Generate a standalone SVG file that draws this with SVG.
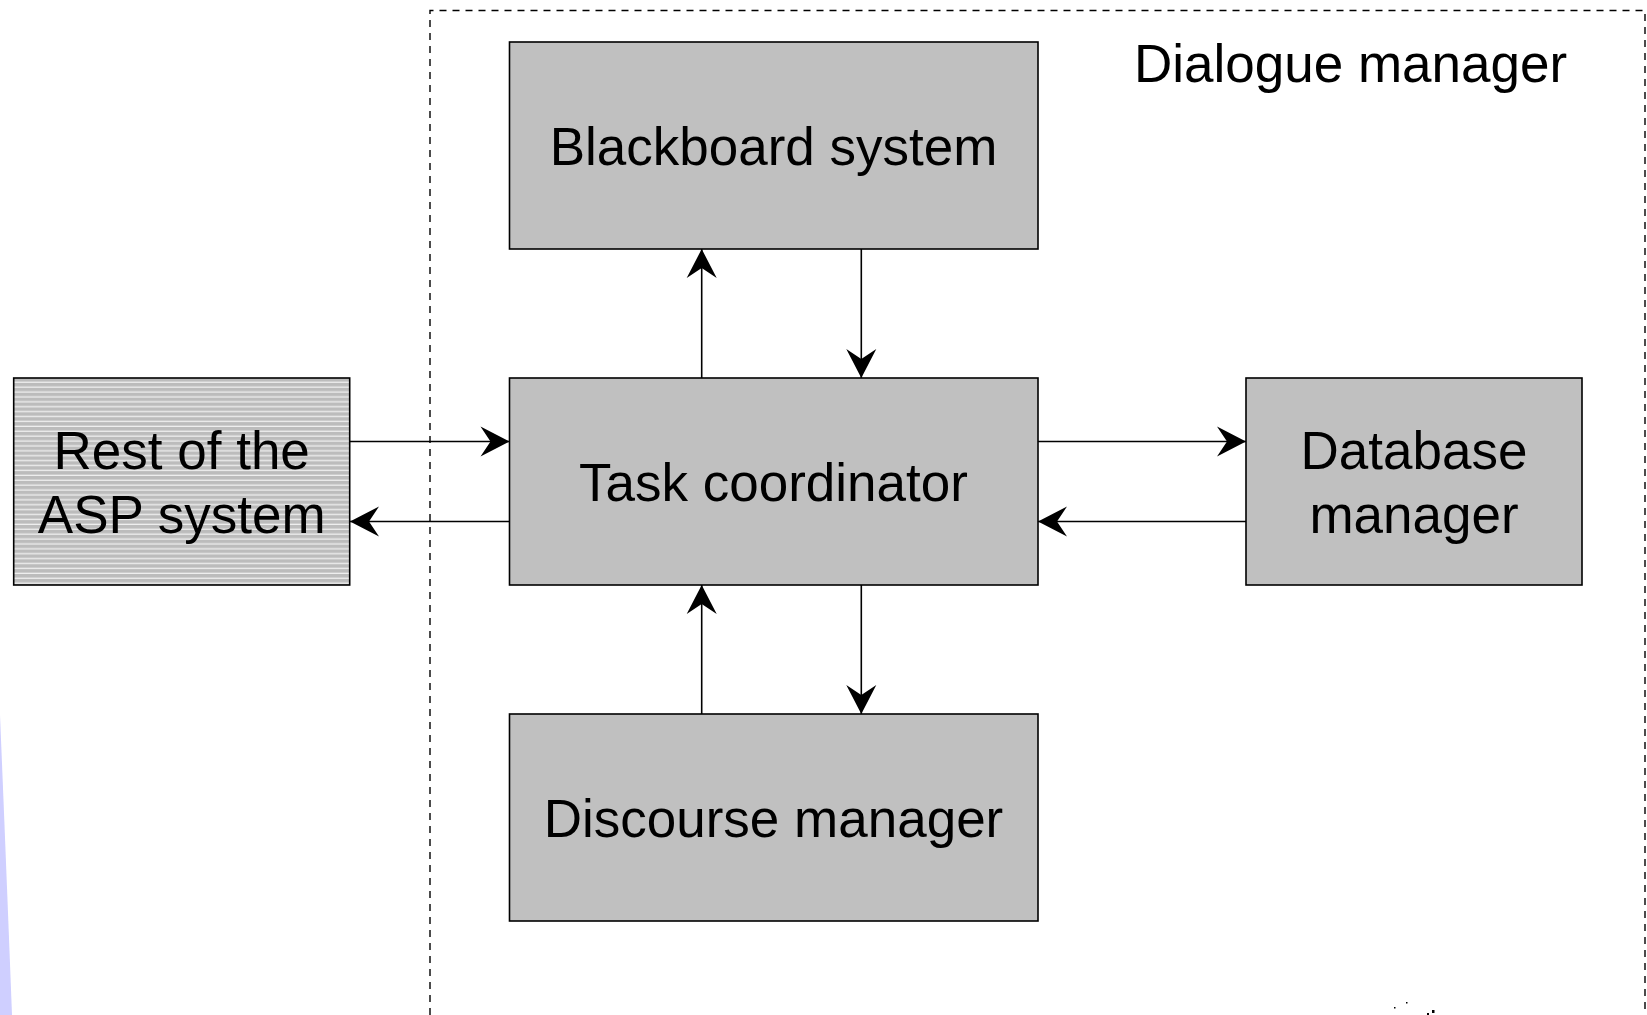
<svg xmlns="http://www.w3.org/2000/svg" width="1647" height="1015" viewBox="0 0 1647 1015">
<style>
.box{fill:#c0c0c0;stroke:#000;stroke-width:1.6}
.lbl{font-family:"Liberation Sans",Arial,sans-serif;font-size:53px;fill:#000;text-anchor:middle}
.conn line{stroke:#000;stroke-width:1.6;marker-end:url(#ah)}
</style>
<defs>
<marker id="ah" viewBox="-30 -16 31 32" refX="0" refY="0" markerWidth="31" markerHeight="32" markerUnits="userSpaceOnUse" orient="auto">
<path d="M0,0 L-29,-15 L-19,0 L-29,15 Z" fill="#000"/>
</marker>
<pattern id="hatch" patternUnits="userSpaceOnUse" x="0" y="378" width="10" height="4.9">
<rect width="10" height="4.9" fill="#bcbcbc"/>
<rect y="3.6" width="10" height="1.2" fill="#f4f4f4"/>
</pattern>
</defs>
<rect width="1647" height="1015" fill="#fff"/>
<path d="M0,715 Q6,860 12,1015 L0,1015 Z" fill="#cfcfff"/>
<g id="dialogue-manager">
<path d="M430,1015 L430,10.5 L1645,10.5 L1645,1015" fill="none" stroke="#000" stroke-width="1.4" stroke-dasharray="7 6"/>
<text x="1134" y="82" style="font-family:'Liberation Sans',Arial,sans-serif;font-size:53px">Dialogue manager</text>
</g>
<g id="blackboard">
<rect class="box" x="509.5" y="42" width="528.5" height="207"/>
<text class="lbl" x="773.5" y="165">Blackboard system</text>
</g>
<g id="task-coordinator">
<rect class="box" x="509.5" y="378" width="528.5" height="207"/>
<text class="lbl" x="773.5" y="501">Task coordinator</text>
</g>
<g id="discourse-manager">
<rect class="box" x="509.5" y="714" width="528.5" height="207"/>
<text class="lbl" x="773.5" y="837">Discourse manager</text>
</g>
<g id="database-manager">
<rect class="box" x="1246" y="378" width="336" height="207"/>
<text class="lbl" x="1414" y="469">Database</text>
<text class="lbl" x="1414" y="533">manager</text>
</g>
<g id="rest-of-asp">
<rect x="13.7" y="378" width="336" height="207" fill="url(#hatch)" stroke="#000" stroke-width="1.6"/>
<text class="lbl" x="181.7" y="469">Rest of the</text>
<text class="lbl" x="181.7" y="533">ASP system</text>
</g>
<g id="connectors" class="conn">
<line x1="701.7" y1="378" x2="701.7" y2="249"/>
<line x1="861.3" y1="249" x2="861.3" y2="378"/>
<line x1="701.7" y1="714" x2="701.7" y2="585"/>
<line x1="861.3" y1="585" x2="861.3" y2="714"/>
<line x1="350" y1="441.5" x2="509.5" y2="441.5"/>
<line x1="509.5" y1="521.5" x2="350" y2="521.5"/>
<line x1="1038" y1="441.5" x2="1246" y2="441.5"/>
<line x1="1246" y1="521.5" x2="1038" y2="521.5"/>
</g>
<g id="specks" fill="#000">
<rect x="1406" y="1002" width="1.5" height="1.5"/>
<rect x="1394" y="1007" width="1.5" height="1.5"/>
<rect x="1432" y="1010" width="2.5" height="3"/>
<rect x="1427" y="1013" width="2" height="2"/>
</g>
</svg>
